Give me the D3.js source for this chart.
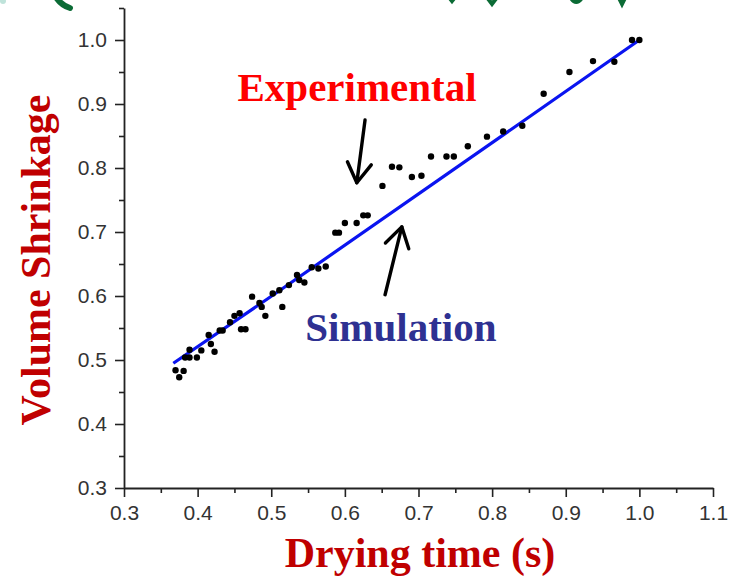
<!DOCTYPE html>
<html>
<head>
<meta charset="utf-8">
<script src="https://cdn.jsdelivr.net/npm/d3@7/dist/d3.min.js"></script>
<style>
  html, body { margin: 0; padding: 0; background: #fff; }
  svg { display: block; }
</style>
</head>
<body>
<svg id="chart" width="746" height="580"></svg>
<script>
// Experimental volume shrinkage vs drying time
const expX = [0.370, 0.381, 0.375, 0.383, 0.389, 0.389, 0.399, 0.405, 0.415, 0.418,
              0.423, 0.430, 0.434, 0.444, 0.450, 0.457, 0.459, 0.465, 0.474, 0.484,
              0.487, 0.492, 0.502, 0.511, 0.515, 0.524, 0.535, 0.538, 0.545, 0.555,
              0.564, 0.574, 0.587, 0.592, 0.600, 0.616, 0.625, 0.631, 0.651, 0.664,
              0.674, 0.691, 0.704, 0.717, 0.738, 0.748, 0.767, 0.793, 0.815, 0.841,
              0.870, 0.905, 0.937, 0.966, 0.990, 1.000];
const expY = [0.484, 0.483, 0.473, 0.504, 0.504, 0.516, 0.504, 0.515, 0.539, 0.525,
              0.513, 0.546, 0.546, 0.559, 0.569, 0.573, 0.548, 0.548, 0.599, 0.589,
              0.583, 0.569, 0.604, 0.609, 0.583, 0.617, 0.633, 0.625, 0.621, 0.645,
              0.643, 0.646, 0.699, 0.699, 0.714, 0.714, 0.726, 0.726, 0.772, 0.802,
              0.801, 0.786, 0.788, 0.818, 0.818, 0.818, 0.834, 0.849, 0.857, 0.866,
              0.916, 0.950, 0.967, 0.966, 1.000, 1.000];

// Simulated shrinkage curve
const simX = [0.367, 0.512, 0.838, 1.000];
const simY = [0.495, 0.609, 0.870, 1.000];

// Axis ticks
const xTicks = [0.3, 0.4, 0.5, 0.6, 0.7, 0.8, 0.9, 1.0, 1.1];
const xMinorTicks = [0.35, 0.45, 0.55, 0.65, 0.75, 0.85, 0.95, 1.05];
const yTicks = [0.3, 0.4, 0.5, 0.6, 0.7, 0.8, 0.9, 1.0];
const yMinorTicks = [0.35, 0.45, 0.55, 0.65, 0.75, 0.85, 0.95, 1.05];

const margin = { top: 8, right: 33, bottom: 92, left: 124 };
const W = 746, H = 580;
const width = W - margin.left - margin.right;
const height = H - margin.top - margin.bottom;

const svg = d3.select("#chart");

// Green pen strokes along the top edge
const green = svg.append("g")
  .attr("fill", "none")
  .attr("stroke", "#0b6b35")
  .attr("stroke-width", 4)
  .attr("stroke-linecap", "round");
green.append("path").attr("d", "M54,-6 Q60,5 70,8").attr("stroke-width", 6);
green.append("path").attr("d", "M448,-4 L452,1 L456,-4");
green.append("path").attr("d", "M486,-4 L492,4 L498,-4");
green.append("path").attr("d", "M571,-4 Q576,6 582,-4").attr("stroke-width", 6);
green.append("path").attr("d", "M618,-4 L622,4 L626,-4");
svg.append("circle").attr("cx", 3).attr("cy", 1).attr("r", 3).attr("fill", "#bfe3da");

const g = svg.append("g").attr("transform", `translate(${margin.left},${margin.top})`);

const x = d3.scaleLinear().domain([0.3, 1.1]).range([0, width]);
const y = d3.scaleLinear().domain([0.3, 1.05]).range([height, 0]);

const axisColor = "#222";
const tickFont = "'Liberation Sans', Arial, sans-serif";

// Minor ticks
g.append("g")
  .attr("transform", `translate(0,${height})`)
  .call(d3.axisBottom(x).tickValues(xMinorTicks).tickSize(5).tickSizeOuter(0).tickFormat(""))
  .call(a => a.select(".domain").remove());
g.append("g")
  .call(d3.axisLeft(y).tickValues(yMinorTicks).tickSize(5).tickSizeOuter(0).tickFormat(""))
  .call(a => a.select(".domain").remove());

// Major axes
g.append("g")
  .attr("transform", `translate(0,${height})`)
  .call(d3.axisBottom(x).tickValues(xTicks).tickSize(9).tickSizeOuter(0).tickPadding(8).tickFormat(d3.format(".1f")));
g.append("g")
  .call(d3.axisLeft(y).tickValues(yTicks).tickSize(9).tickSizeOuter(0).tickPadding(8).tickFormat(d3.format(".1f")));

g.selectAll(".tick line").attr("stroke", axisColor).attr("stroke-width", 1.6);
g.selectAll(".domain").attr("stroke", axisColor).attr("stroke-width", 1.8);
g.selectAll(".tick text")
  .attr("font-family", tickFont)
  .attr("font-size", 21)
  .attr("fill", "#333");

// Simulation line
const line = d3.line().x((d, i) => x(simX[i])).y((d, i) => y(simY[i]));
g.append("path")
  .datum(simX)
  .attr("d", line)
  .attr("fill", "none")
  .attr("stroke", "#0a14f0")
  .attr("stroke-width", 3.2);

// Experimental points
g.append("g")
  .selectAll("circle")
  .data(expX)
  .join("circle")
  .attr("cx", (d, i) => x(expX[i]))
  .attr("cy", (d, i) => y(expY[i]))
  .attr("r", 3.2)
  .attr("fill", "#000");

// Annotation arrows (data coordinates)
function arrow(x0, y0, x1, y1) {
  const X0 = x(x0), Y0 = y(y0), X1 = x(x1), Y1 = y(y1);
  const ang = Math.atan2(Y1 - Y0, X1 - X0);
  const len = 23, spread = 0.55;
  const a1 = ang + Math.PI - spread, a2 = ang + Math.PI + spread;
  const grp = g.append("g")
    .attr("fill", "none")
    .attr("stroke", "#000")
    .attr("stroke-width", 3.4)
    .attr("stroke-linecap", "round")
    .attr("stroke-linejoin", "round");
  grp.append("line").attr("x1", X0).attr("y1", Y0).attr("x2", X1).attr("y2", Y1);
  grp.append("path").attr("d",
    `M${X1 + len * Math.cos(a1)},${Y1 + len * Math.sin(a1)} L${X1},${Y1} L${X1 + len * Math.cos(a2)},${Y1 + len * Math.sin(a2)}`);
}
arrow(0.6274, 0.875, 0.6162, 0.777);
arrow(0.6546, 0.602, 0.6773, 0.708);

const serif = "'Liberation Serif', 'Times New Roman', serif";

// Series labels
g.append("text")
  .attr("x", x(0.6166)).attr("y", y(0.905))
  .attr("text-anchor", "middle")
  .attr("font-family", serif).attr("font-weight", "bold").attr("font-size", 41)
  .attr("fill", "#ff0000")
  .text("Experimental");
g.append("text")
  .attr("x", x(0.676)).attr("y", y(0.529))
  .attr("text-anchor", "middle")
  .attr("font-family", serif).attr("font-weight", "bold").attr("font-size", 41)
  .attr("fill", "#2e3192")
  .text("Simulation");

// Axis titles
svg.append("text")
  .attr("x", 420).attr("y", 567)
  .attr("text-anchor", "middle")
  .attr("font-family", serif).attr("font-weight", "bold").attr("font-size", 42)
  .attr("fill", "#c00000")
  .text("Drying time (s)");
svg.append("text")
  .attr("transform", "translate(50,260) rotate(-90)")
  .attr("text-anchor", "middle")
  .attr("font-family", serif).attr("font-weight", "bold").attr("font-size", 42)
  .attr("fill", "#c00000")
  .text("Volume Shrinkage");
</script>
</body>
</html>
